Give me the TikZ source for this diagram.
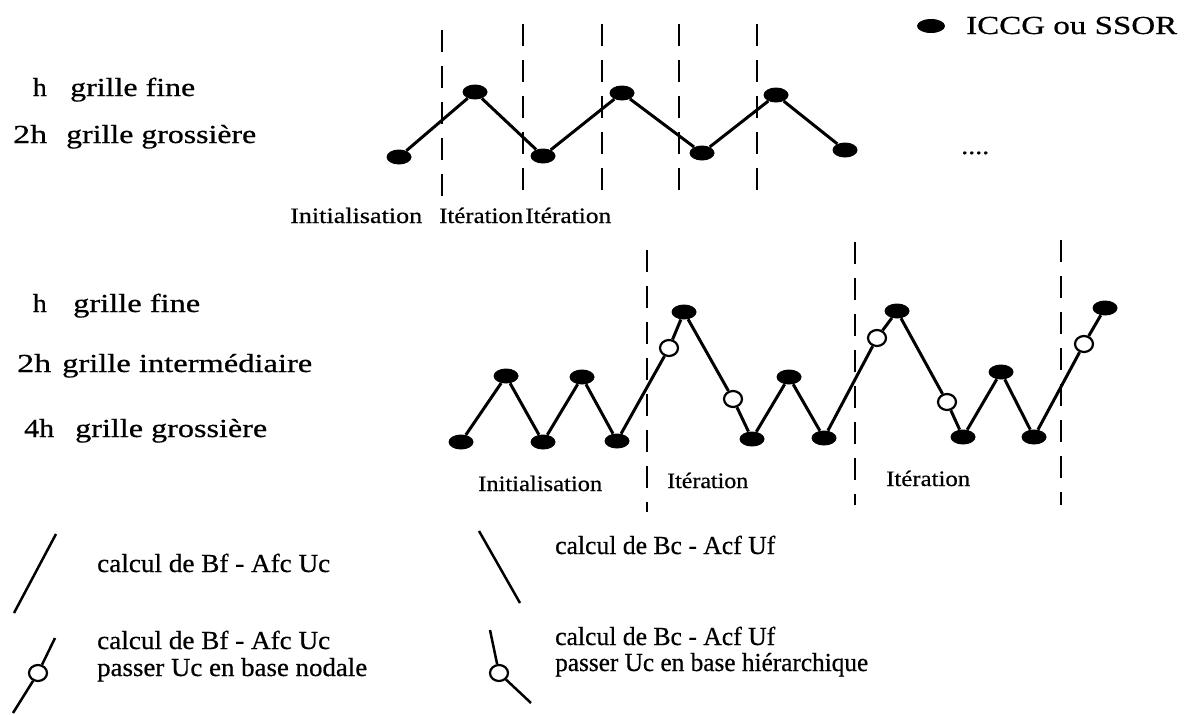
\documentclass[tikz,border=0pt]{standalone}
\usepackage{fontspec}
\setmainfont{Liberation Serif}[FakeBold=0.6]
\usepackage{graphicx}
\usetikzlibrary{shapes.geometric}
\newcommand\fitw[2]{\resizebox{#1pt}{\height}{#2}}
\begin{document}
\begin{tikzpicture}[x=1pt,y=-1pt,
  dot/.style={ellipse,fill=black,minimum width=25pt,minimum height=15pt,inner sep=0pt},
  ring/.style={ellipse,draw=black,fill=white,line width=2.2pt,minimum width=18pt,minimum height=16pt,inner sep=0pt},
  link/.style={line width=3pt},
  sepline/.style={line width=2.5pt,dash pattern=on 22pt off 14pt},
  lbl/.style={font=\fontsize{26}{30}\selectfont,inner sep=0pt,anchor=base west},
  lble/.style={lbl,anchor=base east},
  small/.style={font=\fontsize{22}{26}\selectfont,inner sep=0pt,anchor=base west}]
\useasboundingbox (0,0) rectangle (1184,715);

% key
\node[dot,minimum width=28pt,minimum height=14pt] (key) at (931,26) {};
\node[lbl] (keyt) at (966,34) {\fitw{211}{ICCG ou SSOR}};

% ---------- top diagram ----------
\node[lble] (h1) at (47,96) {\fitw{14}{h}};
\node[lbl] (g1) at (70,96) {\fitw{125}{grille fine}};
\node[lbl] (h2) at (13,143) {\fitw{34}{2h}};
\node[lbl] (g2) at (66,143) {\fitw{190}{grille grossière}};

\foreach \x/\s in {442/30,523/24,602/24,679/24,757/24}
  \draw[sepline] (\x,\s) -- (\x,203);

\node[dot] (t1) at (399,157) {};
\node[dot] (t2) at (475,92) {};
\node[dot] (t3) at (543,156) {};
\node[dot] (t4) at (622,93) {};
\node[dot] (t5) at (702,153) {};
\node[dot] (t6) at (776,95) {};
\node[dot] (t7) at (845,150) {};
\draw[link] (t1) -- (t2) -- (t3) -- (t4) -- (t5) -- (t6) -- (t7);

\node[inner sep=0pt,anchor=base west,font=\fontsize{24}{26}\selectfont] (dots) at (961,154) {\fitw{28}{....}};

\node[small] (ti1) at (290,223) {\fitw{132}{Initialisation}};
\node[small] (ti2) at (439,223) {\fitw{84}{Itération}};
\node[small] (ti3) at (525,223) {\fitw{86}{Itération}};

% ---------- bottom diagram ----------
\node[lble] (h3) at (47,312) {\fitw{14}{h}};
\node[lbl] (g3) at (73,312) {\fitw{127}{grille fine}};
\node[lbl] (h4) at (17,372) {\fitw{34}{2h}};
\node[lbl] (g4) at (62,372) {\fitw{250}{grille intermédiaire}};
\node[lbl] (h5) at (24,437) {\fitw{30}{4h}};
\node[lbl] (g5) at (75,437) {\fitw{192}{grille grossière}};

\draw[sepline] (647,250) -- (647,512);
\draw[sepline] (855,242) -- (855,505);
\draw[sepline] (1061,240) -- (1061,505);

\node[dot] (b1) at (461,442) {};
\node[dot] (m1) at (506,376) {};
\node[dot] (b2) at (543,442) {};
\node[dot] (m2) at (582,377) {};
\node[dot] (b3) at (617,441) {};
\node[ring] (c1) at (669,348) {};
\node[dot] (T1) at (684,312) {};
\node[ring] (c2) at (733,399) {};
\node[dot] (b4) at (752,439) {};
\node[dot] (m3) at (789,377) {};
\node[dot] (b5) at (824,438) {};
\node[ring] (c3) at (877,338) {};
\node[dot] (T2) at (897,311) {};
\node[ring] (c4) at (947,402) {};
\node[dot] (b6) at (963,437) {};
\node[dot] (m4) at (1001,372) {};
\node[dot] (b7) at (1034,437) {};
\node[ring] (c5) at (1084,344) {};
\node[dot] (T3) at (1105,308) {};
\draw[link] (b1) -- (m1) -- (b2) -- (m2) -- (b3) -- (c1) -- (T1) -- (c2) -- (b4)
  -- (m3) -- (b5) -- (c3) -- (T2) -- (c4) -- (b6) -- (m4) -- (b7) -- (c5) -- (T3);

\node[small] (bi1) at (478,491) {\fitw{124}{Initialisation}};
\node[small] (bi2) at (667,488) {\fitw{81}{Itération}};
\node[small] (bi3) at (886,486) {\fitw{84}{Itération}};

% ---------- legend ----------
\coordinate (l1a) at (56,534);
\coordinate (l1b) at (14,613);
\draw[link,line width=2.5pt] (l1a) -- (l1b);
\node[lbl] (e1) at (97,572) {\fitw{233}{calcul de Bf - Afc Uc}};

\coordinate (l2a) at (479,531);
\coordinate (l2b) at (520,603);
\draw[link,line width=2.5pt] (l2a) -- (l2b);
\node[lbl] (e2) at (555,554) {\fitw{220}{calcul de Bc - Acf Uf}};

\coordinate (l3a) at (55,638);
\node[ring] (l3c) at (38,673) {};
\coordinate (l3b) at (13,713);
\draw[link,line width=2.5pt] (l3a) -- (l3c) -- (l3b);
\node[lbl] (e3) at (97,649) {\fitw{233}{calcul de Bf - Afc Uc}};
\node[lbl] (e4) at (97,676) {\fitw{270}{passer Uc en base nodale}};

\coordinate (l4a) at (490,630);
\node[ring] (l4c) at (499,673) {};
\coordinate (l4b) at (531,703);
\draw[link,line width=2.5pt] (l4a) -- (l4c) -- (l4b);
\node[lbl] (e5) at (555,645) {\fitw{220}{calcul de Bc - Acf Uf}};
\node[lbl] (e6) at (555,671) {\fitw{313}{passer Uc en base hiérarchique}};
\end{tikzpicture}
\end{document}
